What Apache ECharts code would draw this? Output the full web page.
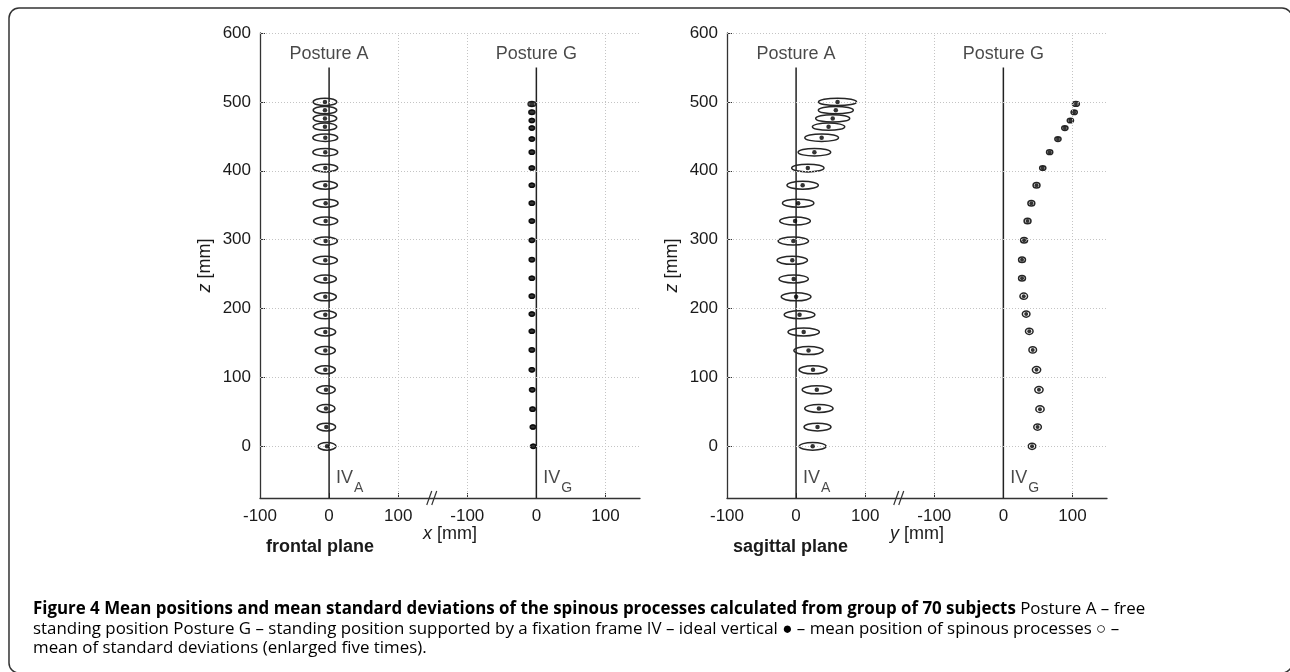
<!DOCTYPE html>
<html><head><meta charset="utf-8">
<script src="https://cdn.jsdelivr.net/npm/echarts@6/dist/echarts.min.js"></script>
<style>html,body{margin:0;padding:0;background:#fff}#c{width:1290px;height:672px}</style>
</head><body><div id="c"></div>
<script>
// ---- data (mm) ----
const zA = [500, 488, 476, 464, 448, 427, 404, 379, 353, 327, 298, 270, 243, 217, 191, 166, 139, 111, 82, 55, 28, 0];
const zG = [497, 485, 473, 462, 446, 427, 404, 379, 353, 327, 299, 271, 244, 218, 192, 167, 140, 111, 82, 54, 28, 0];

// frontal plane, posture A: mean x, 5x SD in x, 5x SD in z
const frontalAx  = [-6, -6, -6, -6, -5.5, -5.5, -5.5, -5.5, -5, -5, -5, -5.5, -5.5, -5.5, -5.5, -5.5, -5.5, -5.5, -4.5, -4.5, -4, -3];
const frontalAsx = [17, 17, 17, 17, 18, 18, 18, 17.5, 18, 17.5, 17, 17.5, 16, 16, 16, 15, 14.5, 14.5, 13.5, 13, 13.5, 13];
const frontalAsz = [5.3, 5.3, 5.3, 5.3, 5.5, 5.5, 5.6, 5.8, 5.8, 5.8, 5.8, 5.8, 5.8, 5.8, 5.8, 5.8, 5.8, 5.8, 5.8, 5.8, 5.6, 5.6];
// frontal plane, posture G
const frontalGx  = [-6.5, -6.5, -6.5, -6.5, -6.5, -6.5, -6.5, -6.5, -6.5, -6.5, -6.5, -6.5, -6.5, -6.5, -6.5, -6.5, -6.5, -6.5, -6, -5.5, -5, -4.5];
const frontalGsx = [5.5, 4.5, 4, 4, 4, 4, 4, 4, 4, 4, 4, 4, 4, 4, 4, 4, 4, 4, 4, 4, 4, 4];
const frontalGsz = [3.6, 3.2, 3, 3, 3, 3, 3, 3, 3, 3, 3, 3, 3, 3, 3, 3, 3, 3, 3, 3, 3, 3];
// sagittal plane, posture A: mean y, 5x SD in y, 5x SD in z
const sagittalAy  = [60, 57.5, 53, 47, 37, 26.5, 17, 9.5, 3, -1.5, -4, -5.5, -3.5, 0, 5, 11, 18, 24.5, 30, 33, 31, 24];
const sagittalAsy = [27.5, 25.3, 24.6, 23.4, 24.4, 23.6, 23.4, 22.7, 22.7, 22.2, 22, 22, 21.2, 21.5, 22.2, 22.7, 21.2, 20.3, 21.2, 20.5, 19.5, 19.5];
const sagittalAsz = [5.3, 5.3, 5.3, 5.3, 5.5, 5.5, 5.6, 5.8, 5.8, 5.8, 5.8, 5.8, 5.8, 5.8, 5.8, 5.8, 5.8, 5.8, 5.8, 5.8, 5.6, 5.6];
// sagittal plane, posture G
const sagittalGy  = [105, 102.5, 97, 89, 79, 67, 57, 48, 40.5, 35, 30, 27, 27, 29.5, 33, 37.5, 42.5, 48, 51.5, 53, 49.5, 41.5];
const sagittalGsy = [5, 4.5, 4.5, 4.5, 4.5, 4.5, 4.5, 5, 5, 5, 5, 5, 5, 5.5, 5.5, 5.5, 5.5, 6, 6, 6, 5.5, 5.5];
const sagittalGsz = [3.4, 3.4, 3.4, 3.4, 3.4, 3.4, 3.4, 4, 4, 4, 4, 4, 4, 4.5, 4.5, 4.5, 4.5, 4.8, 4.8, 4.8, 4.5, 4.5];

// axes
const xTickValues = [-100, 0, 100, 200, 300, 400];       // continuous axis; posture G shifted by +300
const xTickLabels = ['-100', '0', '100', '-100', '0', '100'];
const xGridValues = [100, 200, 400];
const zTickValues = [0, 100, 200, 300, 400, 500, 600];
const postureNames = ['Posture A', 'Posture G'];
const ivSubs = ['A', 'G'];
const planeNames = ['frontal plane', 'sagittal plane'];
const axisVarNames = ['x', 'y'];

// ---- layout constants ----
const G_OFFSET = 300;
const X_MIN = -100, X_MAX = 450, Z_MIN = -75, Z_MAX = 600;
const IV_TOP = 550, LABEL_Z = 569, IV_LABEL_Z = -46, BREAK_X = 150;
const FONT = "Liberation Sans, Arial, sans-serif";
const CAP_FONT = "Open Sans, sans-serif";
const grids = [
  {left: 260, top: 33, width: 380, height: 465},
  {left: 727, top: 33, width: 380, height: 465}
];

const panels = [
  {A: [frontalAx, frontalAsx, frontalAsz], G: [frontalGx, frontalGsx, frontalGsz], gDot: 5.5},
  {A: [sagittalAy, sagittalAsy, sagittalAsz], G: [sagittalGy, sagittalGsy, sagittalGsz], gDot: 4}
];

function ellipseRender(params, api) {
  const c = api.coord([api.value(0), api.value(1)]);
  const s = api.size([api.value(2), api.value(3)]);
  return {type: 'ellipse', shape: {cx: c[0], cy: c[1], rx: s[0], ry: s[1]},
    style: {fill: null, stroke: '#262626', lineWidth: 1.5}};
}
function breakRender(params, api) {
  const c = api.coord([api.value(0), api.value(1)]);
  const st = {stroke: '#333', lineWidth: 1.2};
  return {type: 'group', children: [
    {type: 'line', shape: {x1: c[0] - 6, y1: c[1] + 7, x2: c[0] - 1, y2: c[1] - 7}, style: st},
    {type: 'line', shape: {x1: c[0] - 1, y1: c[1] + 7, x2: c[0] + 4, y2: c[1] - 7}, style: st}
  ]};
}

const xAxes = [], yAxes = [], series = [], titles = [];
grids.forEach((g, gi) => {
  xAxes.push({
    type: 'value', gridIndex: gi, min: X_MIN, max: X_MAX, interval: 100,
    axisLine: {show: true, onZero: false, lineStyle: {color: '#333', width: 1.3}},
    axisTick: {show: true, inside: true, length: 5, customValues: xTickValues, lineStyle: {color: '#333'}},
    axisLabel: {customValues: xTickValues, fontSize: 17, color: '#1a1a1a', fontFamily: FONT, margin: 10,
      formatter: v => { const i = xTickValues.indexOf(v); return i >= 0 ? xTickLabels[i] : ''; }},
    splitLine: {show: false},
    name: '{i|' + axisVarNames[gi] + '} [mm]', nameLocation: 'middle', nameGap: 27, nameMoveOverlap: false,
    nameTextStyle: {fontSize: 18, color: '#1a1a1a', fontFamily: FONT,
      rich: {i: {fontStyle: 'italic', fontSize: 18, fontFamily: FONT, color: '#1a1a1a'}}}
  });
  yAxes.push({
    type: 'value', gridIndex: gi, min: Z_MIN, max: Z_MAX,
    axisLine: {show: true, onZero: false, lineStyle: {color: '#333', width: 1.3}},
    axisTick: {show: true, inside: true, length: 5, customValues: zTickValues, lineStyle: {color: '#333'}},
    axisLabel: {customValues: zTickValues, fontSize: 17, color: '#1a1a1a', fontFamily: FONT, margin: 9,
      formatter: v => zTickValues.indexOf(v) >= 0 ? String(v) : ''},
    splitLine: {show: false},
    name: '{i|z} [mm]', nameLocation: 'middle', nameGap: 46, nameMoveOverlap: false,
    nameTextStyle: {fontSize: 18, color: '#1a1a1a', fontFamily: FONT,
      rich: {i: {fontStyle: 'italic', fontSize: 18, fontFamily: FONT, color: '#1a1a1a'}}}
  });
  titles.push({text: planeNames[gi], left: g.left + 6, top: 538, padding: 0,
    textStyle: {fontSize: 18, fontWeight: 'bold', color: '#1a1a1a', fontFamily: FONT}});

  const gridLineStyle = {color: '#c4c4c4', type: [1, 2], width: 1};
  // grid lines
  series.push({
    type: 'line', xAxisIndex: gi, yAxisIndex: gi, data: [], z: 1, silent: true,
    markLine: {silent: true, symbol: 'none', label: {show: false}, lineStyle: gridLineStyle, animation: false,
      data: zTickValues.map(v => ({yAxis: v})).concat(xGridValues.map(v => ({xAxis: v})))}
  });
  // ideal verticals
  [0, G_OFFSET].forEach(off => {
    series.push({type: 'line', xAxisIndex: gi, yAxisIndex: gi, z: 3, symbol: 'none', silent: true,
      lineStyle: {color: '#222', width: 1.5}, data: [[off, Z_MIN], [off, IV_TOP]]});
  });
  const p = panels[gi];
  [['A', 0, 4.5], ['G', G_OFFSET, p.gDot]].forEach(([key, off, dot]) => {
    const [mx, sx, sz] = p[key];
    const zs = key === 'A' ? zA : zG;
    series.push({type: 'custom', xAxisIndex: gi, yAxisIndex: gi, z: 4, silent: true,
      renderItem: ellipseRender, data: zs.map((z, i) => [mx[i] + off, z, sx[i], sz[i]])});
    series.push({type: 'scatter', xAxisIndex: gi, yAxisIndex: gi, z: 5, silent: true,
      symbol: 'circle', symbolSize: dot, itemStyle: {color: '#000'},
      data: zs.map((z, i) => [mx[i] + off, z])});
  });
  // posture labels
  series.push({type: 'scatter', xAxisIndex: gi, yAxisIndex: gi, z: 6, symbolSize: 0, silent: true,
    data: [[0, LABEL_Z], [G_OFFSET, LABEL_Z]],
    label: {show: true, position: 'inside', fontSize: 18, color: '#1a1a1a', fontFamily: FONT,
      formatter: pr => postureNames[pr.dataIndex]}});
  // IV labels
  series.push({type: 'scatter', xAxisIndex: gi, yAxisIndex: gi, z: 6, symbolSize: 0, silent: true,
    data: [[0, IV_LABEL_Z], [G_OFFSET, IV_LABEL_Z]],
    label: {show: true, position: 'right', distance: 7, fontFamily: FONT, color: '#1a1a1a',
      formatter: pr => '{n|IV}{s|' + ivSubs[pr.dataIndex] + '}',
      rich: {n: {fontSize: 18, fontFamily: FONT, color: '#1a1a1a'},
             s: {fontSize: 14, fontFamily: FONT, color: '#1a1a1a', padding: [20, 0, 0, 1]}}}});
  // axis break mark
  series.push({type: 'custom', xAxisIndex: gi, yAxisIndex: gi, z: 7, silent: true,
    renderItem: breakRender, data: [[BREAK_X, Z_MIN]]});
});

const chart = echarts.init(document.getElementById('c'), null, {renderer: 'canvas'});
chart.setOption({
  animation: false,
  backgroundColor: '#fff',
  title: titles,
  grid: grids,
  xAxis: xAxes,
  yAxis: yAxes,
  series: series,
  graphic: [
    {type: 'rect', shape: {x: 9, y: 8, width: 1283, height: 665, r: 10},
     style: {fill: null, stroke: '#333', lineWidth: 1.5}, silent: true},
    {type: 'text', left: 33, top: 601, silent: true,
     style: {
       text: '{b|Figure 4 Mean positions and mean standard deviations of the spinous processes calculated from group of 70 subjects}{r| Posture A – free}\n' +
             '{r|standing position Posture G – standing position supported by a fixation frame IV – ideal vertical ● – mean position of spinous processes ○ –}\n' +
             '{r|mean of standard deviations (enlarged five times).}',
       rich: {
         b: {fontFamily: CAP_FONT, fontWeight: 'bold', fontSize: 16.9, color: '#231f20', lineHeight: 19.5},
         r: {fontFamily: CAP_FONT, fontSize: 16.9, color: '#444', lineHeight: 19.5}
       }
     }}
  ]
});
</script></body></html>
